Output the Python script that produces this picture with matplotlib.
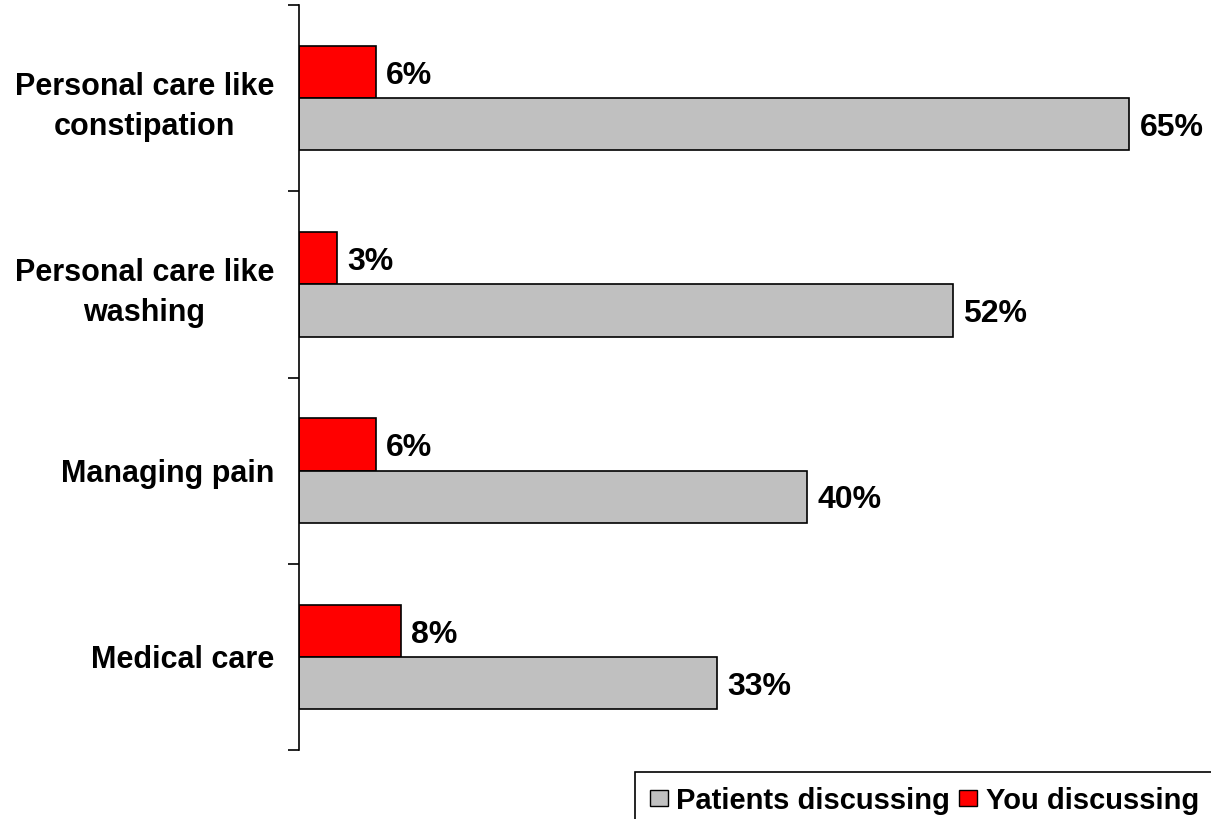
import matplotlib.pyplot as plt
from matplotlib.patches import Patch, Rectangle

# categories top to bottom
categories = ['Personal care like\nconstipation', 'Personal care like\nwashing',
              'Managing pain', 'Medical care']
patients = [65.0, 51.2, 39.8, 32.7]
patients_labels = ['65%', '52%', '40%', '33%']
you = [6.0, 3.0, 6.0, 8.0]
you_labels = ['6%', '3%', '6%', '8%']

plt.rcParams['font.family'] = ['Liberation Sans', 'DejaVu Sans']
plt.rcParams['font.weight'] = 'bold'

fig = plt.figure(figsize=(12.11, 8.19), dpi=100)
ax = fig.add_axes([299 / 1211, 1 - 750 / 819, 1 - 299 / 1211, (750 - 5) / 819])

h = 0.28
pos = list(range(len(categories)))
ax.barh([p - h / 2 for p in pos], you, height=h, color='#ff0000', edgecolor='black', linewidth=1.2)
ax.barh([p + h / 2 for p in pos], patients, height=h, color='#c0c0c0', edgecolor='black', linewidth=1.2)

# value labels, nudged a little down to sit on the bar centre
for p, v, t in zip(pos, you, you_labels):
    ax.text(v + 0.8, p - h / 2 + 0.02, t, va='center', ha='left', fontsize=23, fontweight='bold')
for p, v, t in zip(pos, patients, patients_labels):
    ax.text(v + 0.8, p + h / 2 + 0.02, t, va='center', ha='left', fontsize=23, fontweight='bold')

ax.set_xlim(0, 71.4)
ax.set_ylim(len(categories) - 0.5, -0.5)
ax.set_yticks(pos)
ax.set_yticklabels(categories, fontsize=22, fontweight='bold', ha='right',
                   multialignment='center', linespacing=1.45)
ax.tick_params(axis='y', which='major', length=0, pad=18)
ax.set_yticks([p - 0.5 for p in pos] + [len(categories) - 0.5], minor=True)
ax.tick_params(axis='y', which='minor', length=8, width=1.2, direction='out')
ax.set_xticks([])
for s in ['top', 'right', 'bottom']:
    ax.spines[s].set_visible(False)
ax.spines['left'].set_linewidth(1.2)

# legend box runs off the right and bottom edge of the image
fig.patches.append(Rectangle((635 / 1211, -0.1), 1.0, 0.1 + 1 - 772 / 819, transform=fig.transFigure,
                             facecolor='none', edgecolor='black', linewidth=1.2))
handles = [Patch(facecolor='#c0c0c0', edgecolor='black', label='Patients discussing'),
           Patch(facecolor='#ff0000', edgecolor='black', label='You discussing')]
leg = fig.legend(handles=handles, loc='upper left', bbox_to_anchor=(635 / 1211, 1 - 772 / 819),
                 ncol=2, frameon=False,
                 handlelength=0.62, handleheight=0.45, handletextpad=0.3, columnspacing=0.3,
                 borderpad=0.5, borderaxespad=0, prop={'weight': 'bold', 'size': 21})

fig.savefig('out.png', dpi=100)
